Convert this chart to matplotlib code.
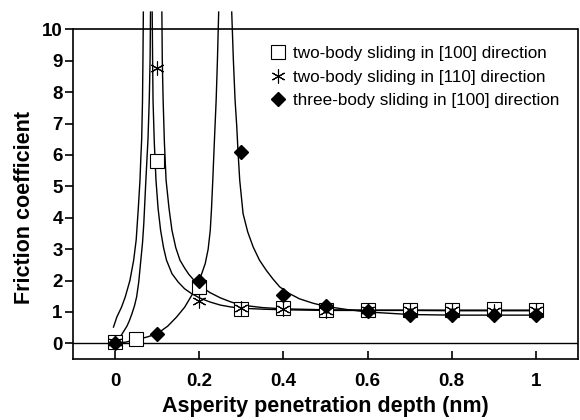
import numpy as np
import matplotlib
matplotlib.use('Agg')
import matplotlib.pyplot as plt

plt.rcParams['font.family'] = ['Liberation Sans', 'DejaVu Sans']

# measured points
depth = [0, 0.1, 0.2, 0.3, 0.4, 0.5, 0.6, 0.7, 0.8, 0.9, 1.0]
sq_x = [0, 0.05, 0.1, 0.2, 0.3, 0.4, 0.5, 0.6, 0.7, 0.8, 0.9, 1.0]
sq_y = [0.04, 0.13, 5.8, 1.8, 1.1, 1.12, 1.05, 1.07, 1.07, 1.06, 1.09, 1.06]
ast_y = [0.05, 8.77, 1.34, 1.12, 1.08, 1.02, 1.05, 1.07, 1.05, 1.02, 1.06]
dia_y = [0.02, 0.31, 2.0, 6.1, 1.55, 1.18, 1.02, 0.9, 0.9, 0.9, 0.9]

# fitted curves
a_x = [-0.004, 0.0, 0.004, 0.015, 0.024, 0.035, 0.044, 0.05, 0.055, 0.059, 0.061, 0.063, 0.065, 0.066, 0.067]
a_y = [0.52, 0.68, 0.84, 1.15, 1.48, 2.0, 2.65, 3.3, 4.3, 5.2, 5.9, 6.5, 7.74, 9.0, 10.55]
b_x = [0, 0.007, 0.014, 0.021, 0.028, 0.034, 0.04, 0.046, 0.051, 0.056, 0.061, 0.065, 0.068, 0.073, 0.078, 0.081, 0.083, 0.084]
b_y = [0, 0.12, 0.25, 0.4, 0.55, 0.73, 0.95, 1.2, 1.48, 1.95, 2.65, 3.2, 3.8, 5.2, 6.5, 7.74, 9.0, 10.55]
c_x = [0.088, 0.089, 0.09, 0.093, 0.097, 0.102, 0.108, 0.115, 0.122, 0.135, 0.15, 0.165, 0.18, 0.2,
       0.225, 0.25, 0.275, 0.3, 0.35, 0.4, 0.5, 0.6, 0.7, 0.8, 0.9, 1.0]
c_y = [10.55, 9.0, 7.74, 6.4, 5.2, 4.3, 3.6, 3.05, 2.65, 2.22, 1.95, 1.74, 1.6, 1.45,
       1.32, 1.22, 1.16, 1.12, 1.09, 1.07, 1.05, 1.05, 1.05, 1.04, 1.04, 1.04]
d_x = [0.111, 0.112, 0.114, 0.117, 0.121, 0.128, 0.135, 0.144, 0.154, 0.165, 0.175, 0.188, 0.2,
       0.225, 0.25, 0.275, 0.3, 0.35, 0.4, 0.5, 0.6, 0.7, 0.8, 0.9, 1.0]
d_y = [10.55, 9.0, 7.74, 6.4, 5.2, 4.3, 3.6, 3.05, 2.65, 2.4, 2.2, 2.0, 1.85,
       1.62, 1.45, 1.32, 1.22, 1.14, 1.1, 1.07, 1.06, 1.06, 1.06, 1.06, 1.06]
e_x = [0, 0.025, 0.05, 0.075, 0.1, 0.125, 0.146, 0.165, 0.185, 0.2, 0.214, 0.221, 0.226, 0.229,
       0.232, 0.236, 0.24, 0.243, 0.246]
e_y = [0, 0.04, 0.12, 0.2, 0.31, 0.55, 0.84, 1.15, 1.6, 2.0, 2.54, 3.0, 3.6, 4.3,
       5.2, 6.5, 7.74, 9.0, 10.55]
f_x = [0.277, 0.281, 0.285, 0.289, 0.292, 0.296, 0.304, 0.315, 0.328, 0.343, 0.359, 0.375, 0.391,
       0.415, 0.438, 0.47, 0.5, 0.55, 0.6, 0.7, 0.8, 0.9, 1.0]
f_y = [10.55, 9.0, 7.74, 6.9, 6.1, 5.2, 4.13, 3.55, 3.07, 2.65, 2.33, 2.05, 1.8,
       1.58, 1.42, 1.28, 1.18, 1.08, 1.0, 0.92, 0.9, 0.9, 0.9]

labels = ['two-body sliding in [100] direction',
          'two-body sliding in [110] direction',
          'three-body sliding in [100] direction']

fig = plt.figure(figsize=(5.8, 4.2), dpi=100)
ax = fig.add_axes([0.126, 0.145, 0.8706, 0.83])

for cx, cy in [(a_x, a_y), (b_x, b_y), (c_x, c_y), (d_x, d_y), (e_x, e_y), (f_x, f_y)]:
    ax.plot(cx, cy, color='black', lw=1.0, zorder=2)

ax.plot(sq_x, sq_y, ls='None', marker='s', ms=9.5, mfc='white', mec='black', mew=0.8,
        label=labels[0], zorder=3)
ax.plot(depth, ast_y, ls='None', marker=(6, 2, 0), ms=10, mec='black', mew=0.8,
        label=labels[1], zorder=4)
ax.plot(depth, dia_y, ls='None', marker='D', ms=7.5, color='black',
        label=labels[2], zorder=5)

ax.axhline(0, color='black', lw=1.0, zorder=1)
ax.axhline(10, color='black', lw=1.2, zorder=1)

ax.set_xlim(-0.1, 1.1)
ax.set_ylim(-0.5, 10.6)
ax.spines['top'].set_visible(False)
ax.spines['left'].set_bounds(-0.5, 10)
ax.spines['right'].set_bounds(-0.5, 10)
for s in ['left', 'right', 'bottom']:
    ax.spines[s].set_linewidth(1.2)

ax.set_xticks([0, 0.2, 0.4, 0.6, 0.8, 1.0])
ax.set_xticklabels(['0', '0.2', '0.4', '0.6', '0.8', '1'])
ax.set_yticks(range(0, 11))
ax.tick_params(axis='x', direction='in', length=6, width=1.2, pad=10, labelsize=13.5)
ax.tick_params(axis='y', direction='out', length=6, width=1.2, pad=1.5, labelsize=13.5)
for t in ax.get_xticklabels() + ax.get_yticklabels():
    t.set_fontweight('bold')

ax.set_xlabel('Asperity penetration depth (nm)', fontsize=15.5, fontweight='bold')
ax.set_ylabel('Friction coefficient', fontsize=15.5, fontweight='bold')
ax.xaxis.set_label_coords(0.5, -0.105)
ax.yaxis.set_label_coords(-0.075, 0.435)

ax.legend(loc='upper left', bbox_to_anchor=(0.389, 0.898), frameon=False, fontsize=12.3,
          handletextpad=0.35, labelspacing=0.5, handlelength=1.0, borderaxespad=0,
          borderpad=0)

plt.savefig('out.png', dpi=100)
